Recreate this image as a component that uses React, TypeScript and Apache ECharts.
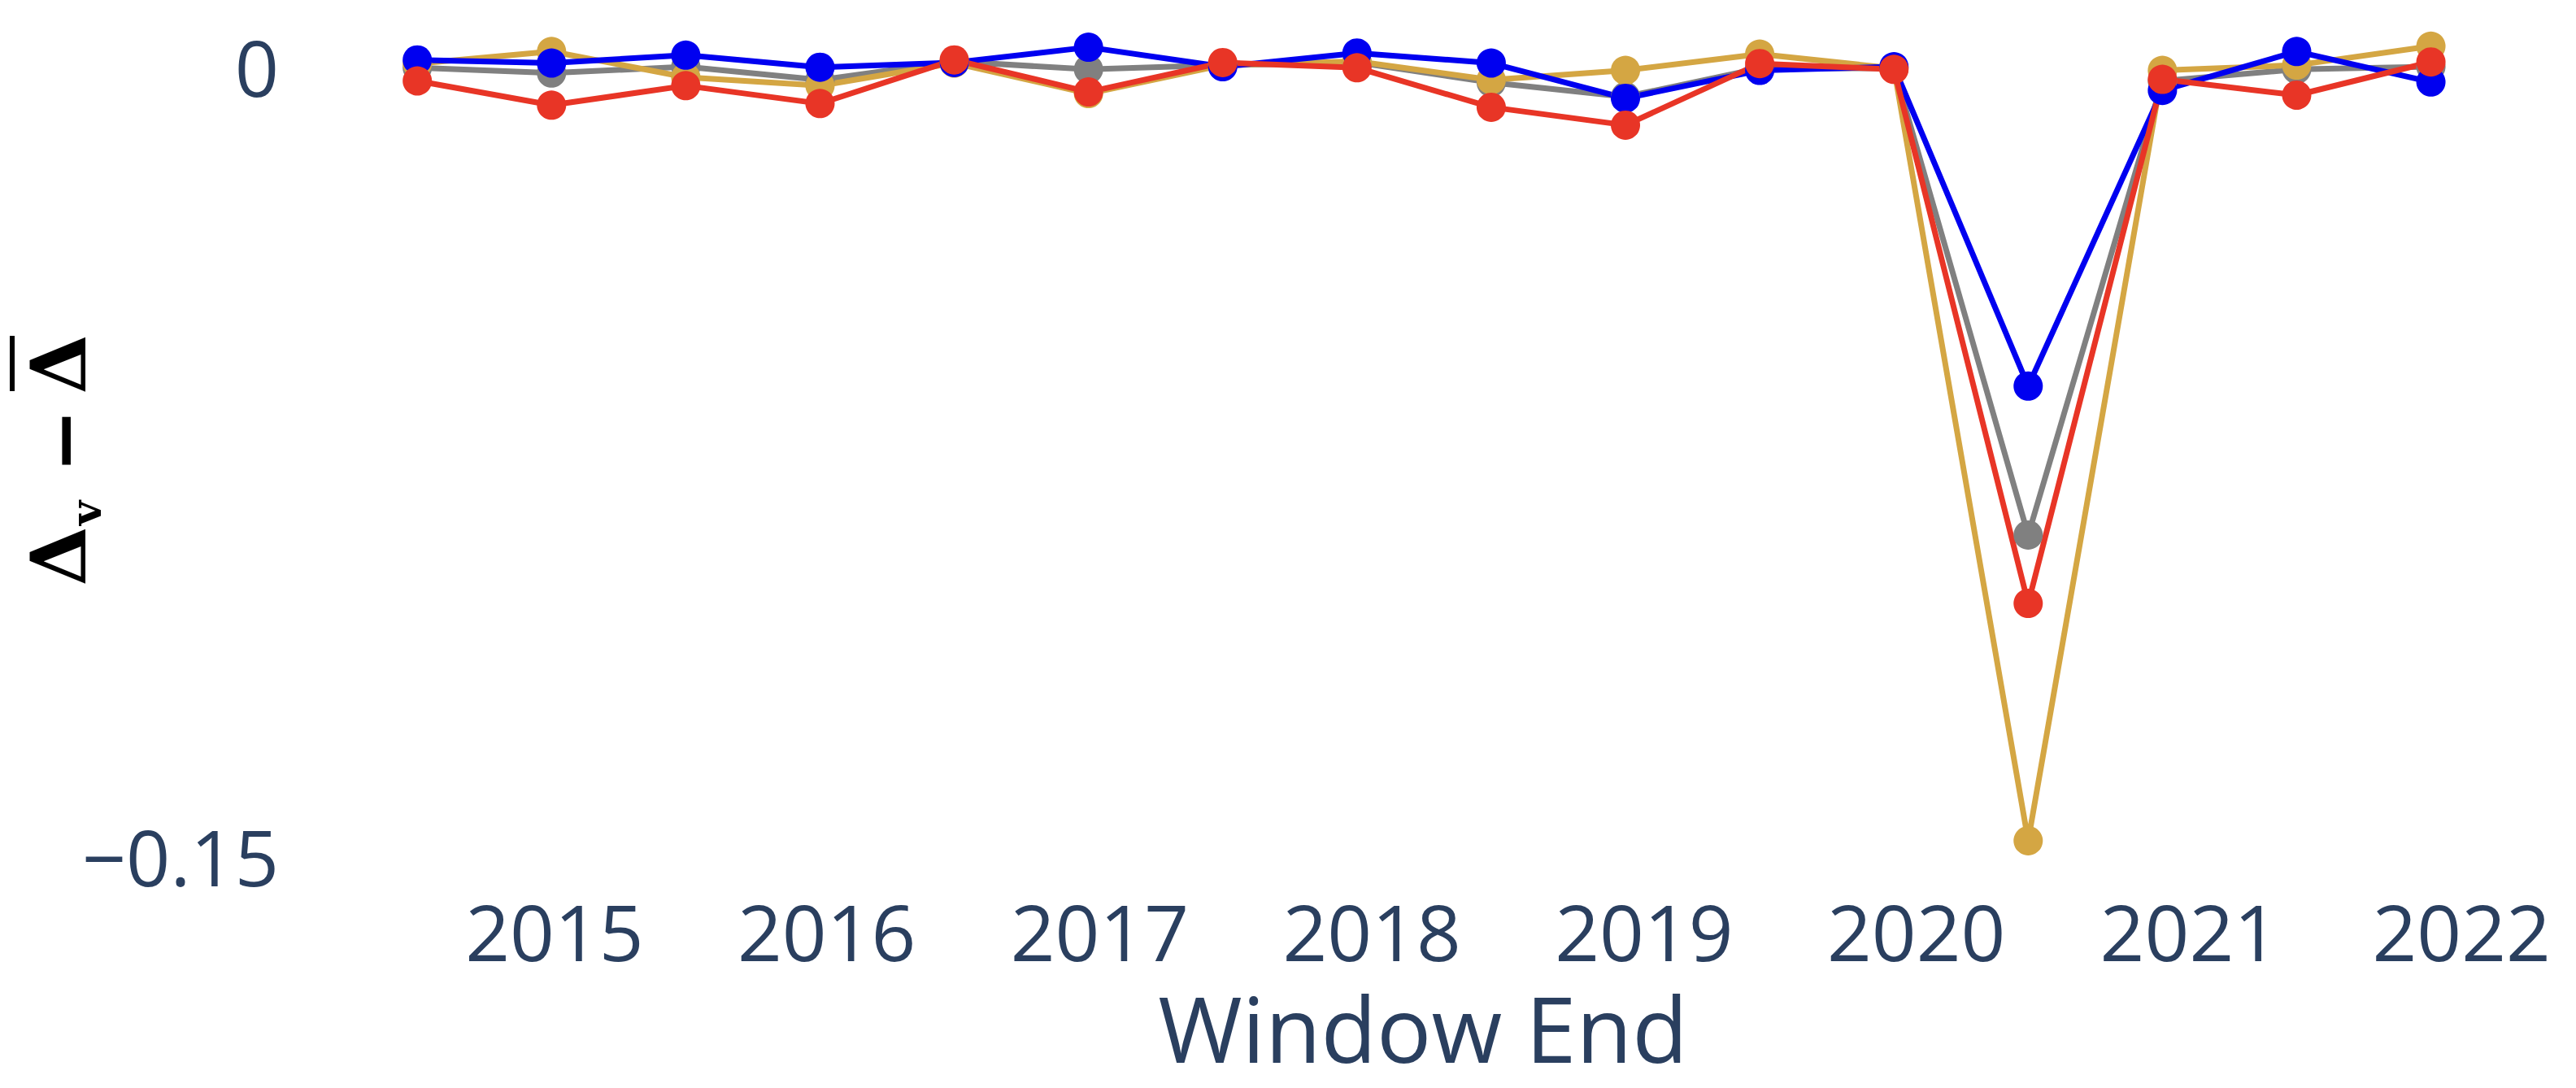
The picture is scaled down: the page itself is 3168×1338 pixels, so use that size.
import React, { useEffect, useRef } from "react";
import * as echarts from "echarts";

const windowEnds = [
  "2014-07-01", "2014-12-28", "2015-06-26", "2015-12-23",
  "2016-06-20", "2016-12-17", "2017-06-15", "2017-12-12",
  "2018-06-10", "2018-12-07", "2019-06-05", "2019-12-02",
  "2020-05-30", "2020-11-26", "2021-05-25", "2021-11-21",
];

const grayValues = [
  -0.0002, -0.0012, 0.0, -0.0025, 0.001, -0.0005, 0.0003, 0.0008,
  -0.003, -0.0057, -0.0003, -0.0003, -0.089, -0.0027, -0.0005, 0.0,
];
const goldValues = [
  0.0006, 0.0029, -0.002, -0.0036, 0.0007, -0.0051, 0.0003, 0.001,
  -0.0025, -0.0007, 0.0024, -0.0003, -0.1471, -0.0007, 0.0003, 0.0039,
];
const blueValues = [
  0.0013, 0.0007, 0.0022, -0.0001, 0.0008, 0.0037, 0.0, 0.0026,
  0.0007, -0.006, -0.0007, 0.0, -0.0607, -0.0045, 0.0029, -0.0029,
];
const redValues = [
  -0.0027, -0.0073, -0.0036, -0.007, 0.0013, -0.0048, 0.0008, -0.0002,
  -0.0077, -0.0111, 0.0006, -0.0005, -0.102, -0.0024, -0.0054, 0.0009,
];

const yearTicks = ["2015-01-01", "2016-01-01", "2017-01-01", "2018-01-01", "2019-01-01", "2020-01-01", "2021-01-01", "2022-01-01"];
const yTicks = [0, -0.15];
const yTickLabels = ["0", "\u22120.15"];

const seriesDefs = [
  { name: "gray", color: "#808080", values: grayValues },
  { name: "gold", color: "#D4A643", values: goldValues },
  { name: "blue", color: "#0000F0", values: blueValues },
  { name: "red", color: "#E83526", values: redValues },
];

const ts = (s: string) => new Date(s + "T00:00:00Z").getTime();

export default function App() {
  const ref = useRef<HTMLDivElement>(null);
  useEffect(() => {
    if (!ref.current) return;
    const chart = echarts.init(ref.current, null, { renderer: "svg" });
    const tickColor = "#2a3f5f";
    const mathFont = { fontFamily: "DejaVu Serif", fontWeight: "bold", fill: "#000" };
    chart.setOption({
      animation: false,
      backgroundColor: "#ffffff",
      grid: { left: 460, right: 128, top: 40, bottom: 253, containLabel: false },
      xAxis: {
        type: "value",
        min: ts("2014-05-04"),
        max: ts("2022-01-15"),
        axisLine: { show: false },
        axisTick: { show: false },
        splitLine: { show: false },
        axisLabel: {
          customValues: yearTicks.map(ts),
          formatter: (v: number) => String(new Date(v).getUTCFullYear()),
          fontFamily: "Open Sans",
          fontSize: 96,
          lineHeight: 70,
          color: tickColor,
          margin: 24,
          hideOverlap: false,
        },
        name: "Window End",
        nameLocation: "middle",
        nameGap: 134,
        nameTextStyle: { fontFamily: "Open Sans", fontSize: 112, lineHeight: 88, color: tickColor },
      },
      yAxis: {
        type: "value",
        min: -0.155,
        max: 0.0065,
        axisLine: { show: false },
        axisTick: { show: false },
        splitLine: { show: false },
        axisLabel: {
          customValues: yTicks,
          formatter: (v: number) => {
            const i = yTicks.findIndex((t) => Math.abs(t - v) < 1e-9);
            return i >= 0 ? yTickLabels[i] : "";
          },
          fontFamily: "Open Sans",
          fontSize: 95,
          color: tickColor,
          margin: 117,
        },
      },
      graphic: [
        {
          type: "group",
          x: 72,
          y: 717,
          rotation: Math.PI / 2,
          children: [
            {
              type: "text",
              x: 33,
              y: 0,
              style: { ...mathFont, text: "\u0394", fontSize: 94, align: "center", verticalAlign: "middle" },
            },
            {
              type: "text",
              x: 86,
              y: 33,
              style: { ...mathFont, text: "v", fontSize: 52, align: "center", verticalAlign: "middle" },
            },
            {
              type: "text",
              x: 175,
              y: 6,
              style: { ...mathFont, text: "\u2212", fontSize: 94, align: "center", verticalAlign: "middle" },
            },
            {
              type: "text",
              x: 269,
              y: 0,
              style: { ...mathFont, text: "\u0394", fontSize: 94, align: "center", verticalAlign: "middle" },
            },
            {
              type: "rect",
              shape: { x: 236, y: -60, width: 68, height: 6 },
              style: { fill: "#000" },
            },
          ],
        },
      ],
      series: seriesDefs.map((s) => ({
        name: s.name,
        type: "line",
        data: windowEnds.map((d, i) => [ts(d), s.values[i]]),
        symbol: "circle",
        symbolSize: 36,
        showSymbol: true,
        lineStyle: { color: s.color, width: 7 },
        itemStyle: { color: s.color },
        emphasis: { disabled: true },
      })),
    });
    return () => chart.dispose();
  }, []);
  return <div ref={ref} style={{ position: "fixed", left: 0, top: 0, width: 3168, height: 1338 }} />;
}
